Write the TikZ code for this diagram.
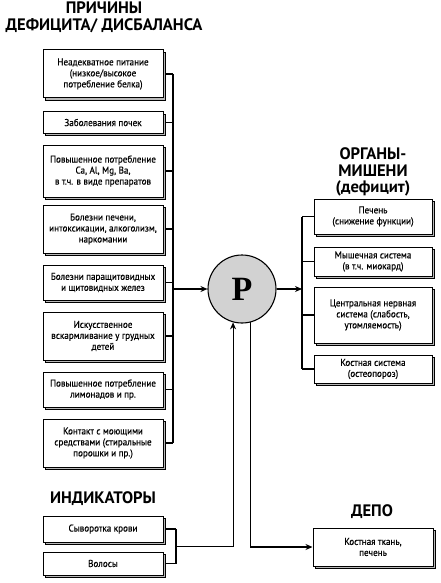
\documentclass[tikz,border=0pt]{standalone}
\usepackage{fontspec}
\setmainfont{PT Sans}[FakeStretch=0.92, FakeBold=0.4]
\newfontfamily\titlefont{PT Sans}
\newfontfamily\pfont{Liberation Serif}
\usetikzlibrary{shadows,arrows.meta,calc}
\begin{document}
\begin{tikzpicture}[x=1pt,y=-1pt,
  line width=1.1pt,
  box/.style={draw=black, fill=white, line width=1pt, align=center, inner sep=1pt,
    font=\fontsize{9.9}{11}\selectfont,
    copy shadow={shadow xshift=2.8pt, shadow yshift=-2.8pt, fill=gray!55, draw=black, line width=0.8pt}},
  lbox/.style={box, minimum width=120pt},
  rbox/.style={box, minimum width=118pt},
  title/.style={font=\titlefont\bfseries\fontsize{16.6}{16.8}\selectfont, align=center, inner sep=0pt},
  arr/.style={-{Stealth[length=7pt,width=6pt]}},
  conn/.style={line width=1.1pt}
]
\useasboundingbox (0,0) rectangle (440,583);

% titles
\node[title] (t1) at (104,17) {ПРИЧИНЫ\\ДЕФИЦИТА/ ДИСБАЛАНСА};
\node[title] (t2) at (373,172) {ОРГАНЫ-\\МИШЕНИ\\(дефицит)};
\node[title] (t3) at (103,499) {ИНДИКАТОРЫ};
\node[title] (t4) at (372,512) {ДЕПО};

% left boxes
\node[lbox, minimum height=48pt] (b1) at (103,74) {Неадекватное питание\\(низкое/высокое\\потребление белка)};
\node[lbox, minimum height=21pt] (b2) at (103,122.5) {Заболевания почек};
\node[lbox, minimum height=52pt] (b3) at (103,171) {Повышенное потребление\\Ca, Al, Mg, Ba,\\в т.ч. в виде препаратов};
\node[lbox, minimum height=48pt] (b4) at (103,229) {Болезни печени,\\интоксикации, алкоголизм,\\наркомании};
\node[lbox, minimum height=35pt] (b5) at (103,282.5) {Болезни паращитовидных\\и щитовидных желез};
\node[lbox, minimum height=48pt] (b6) at (103,336) {Искусственное\\вскармливание у грудных\\детей};
\node[lbox, minimum height=35pt] (b7) at (103,389.5) {Повышенное потребление\\лимонадов и пр.};
\node[lbox, minimum height=48pt] (b8) at (103,443) {Контакт с моющими\\средствами (стиральные\\порошки и пр.)};

% indicator boxes
\node[lbox, minimum height=26pt] (i1) at (103,529) {Сыворотка крови};
\node[lbox, minimum height=23pt] (i2) at (103,563.5) {Волосы};

% right boxes
\node[rbox, minimum height=35pt] (r1) at (373,216.5) {Печень\\(снижение функции)};
\node[rbox, minimum height=29pt] (r2) at (373,261.5) {Мышечная система\\(в т.ч. миокард)};
\node[rbox, minimum height=56pt] (r3) at (373,315) {Центральная нервная\\система (слабость,\\утомляемость)};
\node[rbox, minimum height=28pt] (r4) at (373,369) {Костная система\\(остеопороз)};
\node[rbox, minimum width=120pt, minimum height=38pt] (d1) at (373,547) {Костная ткань,\\печень};

% central circle
\node[circle, draw=black, fill=gray!35, line width=1.1pt, minimum size=68pt, inner sep=0pt,
  font=\pfont\bfseries\fontsize{34}{34}\selectfont] (P) at (242,289) {P};

% buses
\coordinate (lbus) at (173,0);
\coordinate (rbus) at (302,0);
\coordinate (ibus) at (176,0);

\foreach \b in {b1,b2,b3,b4,b5,b6,b7,b8}
  \draw[conn] ([xshift=2.8pt]\b.east) -- (\b.east -| lbus);
\draw[conn] (b1.east -| lbus) -- (b8.east -| lbus);
\draw[conn,arr] (P.west -| lbus) -- (P.west);

\draw[conn,arr] (P.east) -- (P.east -| rbus);
\draw[conn] (r1.west -| rbus) -- (r4.west -| rbus);
\foreach \r in {r1,r2,r3,r4}
  \draw[conn] (\r.west -| rbus) -- (\r.west);

\foreach \i in {i1,i2}
  \draw[conn] ([xshift=2.8pt]\i.east) -- (\i.east -| ibus);
\draw[conn] (i1.east -| ibus) -- (i2.east -| ibus);
\coordinate (imid) at ($(i1.east -| ibus)!0.5!(i2.east -| ibus)$);
\draw[conn,arr] (imid) -| (P.-105);
\draw[conn,arr] (P.-75) |- (d1.west);
\end{tikzpicture}
\end{document}
